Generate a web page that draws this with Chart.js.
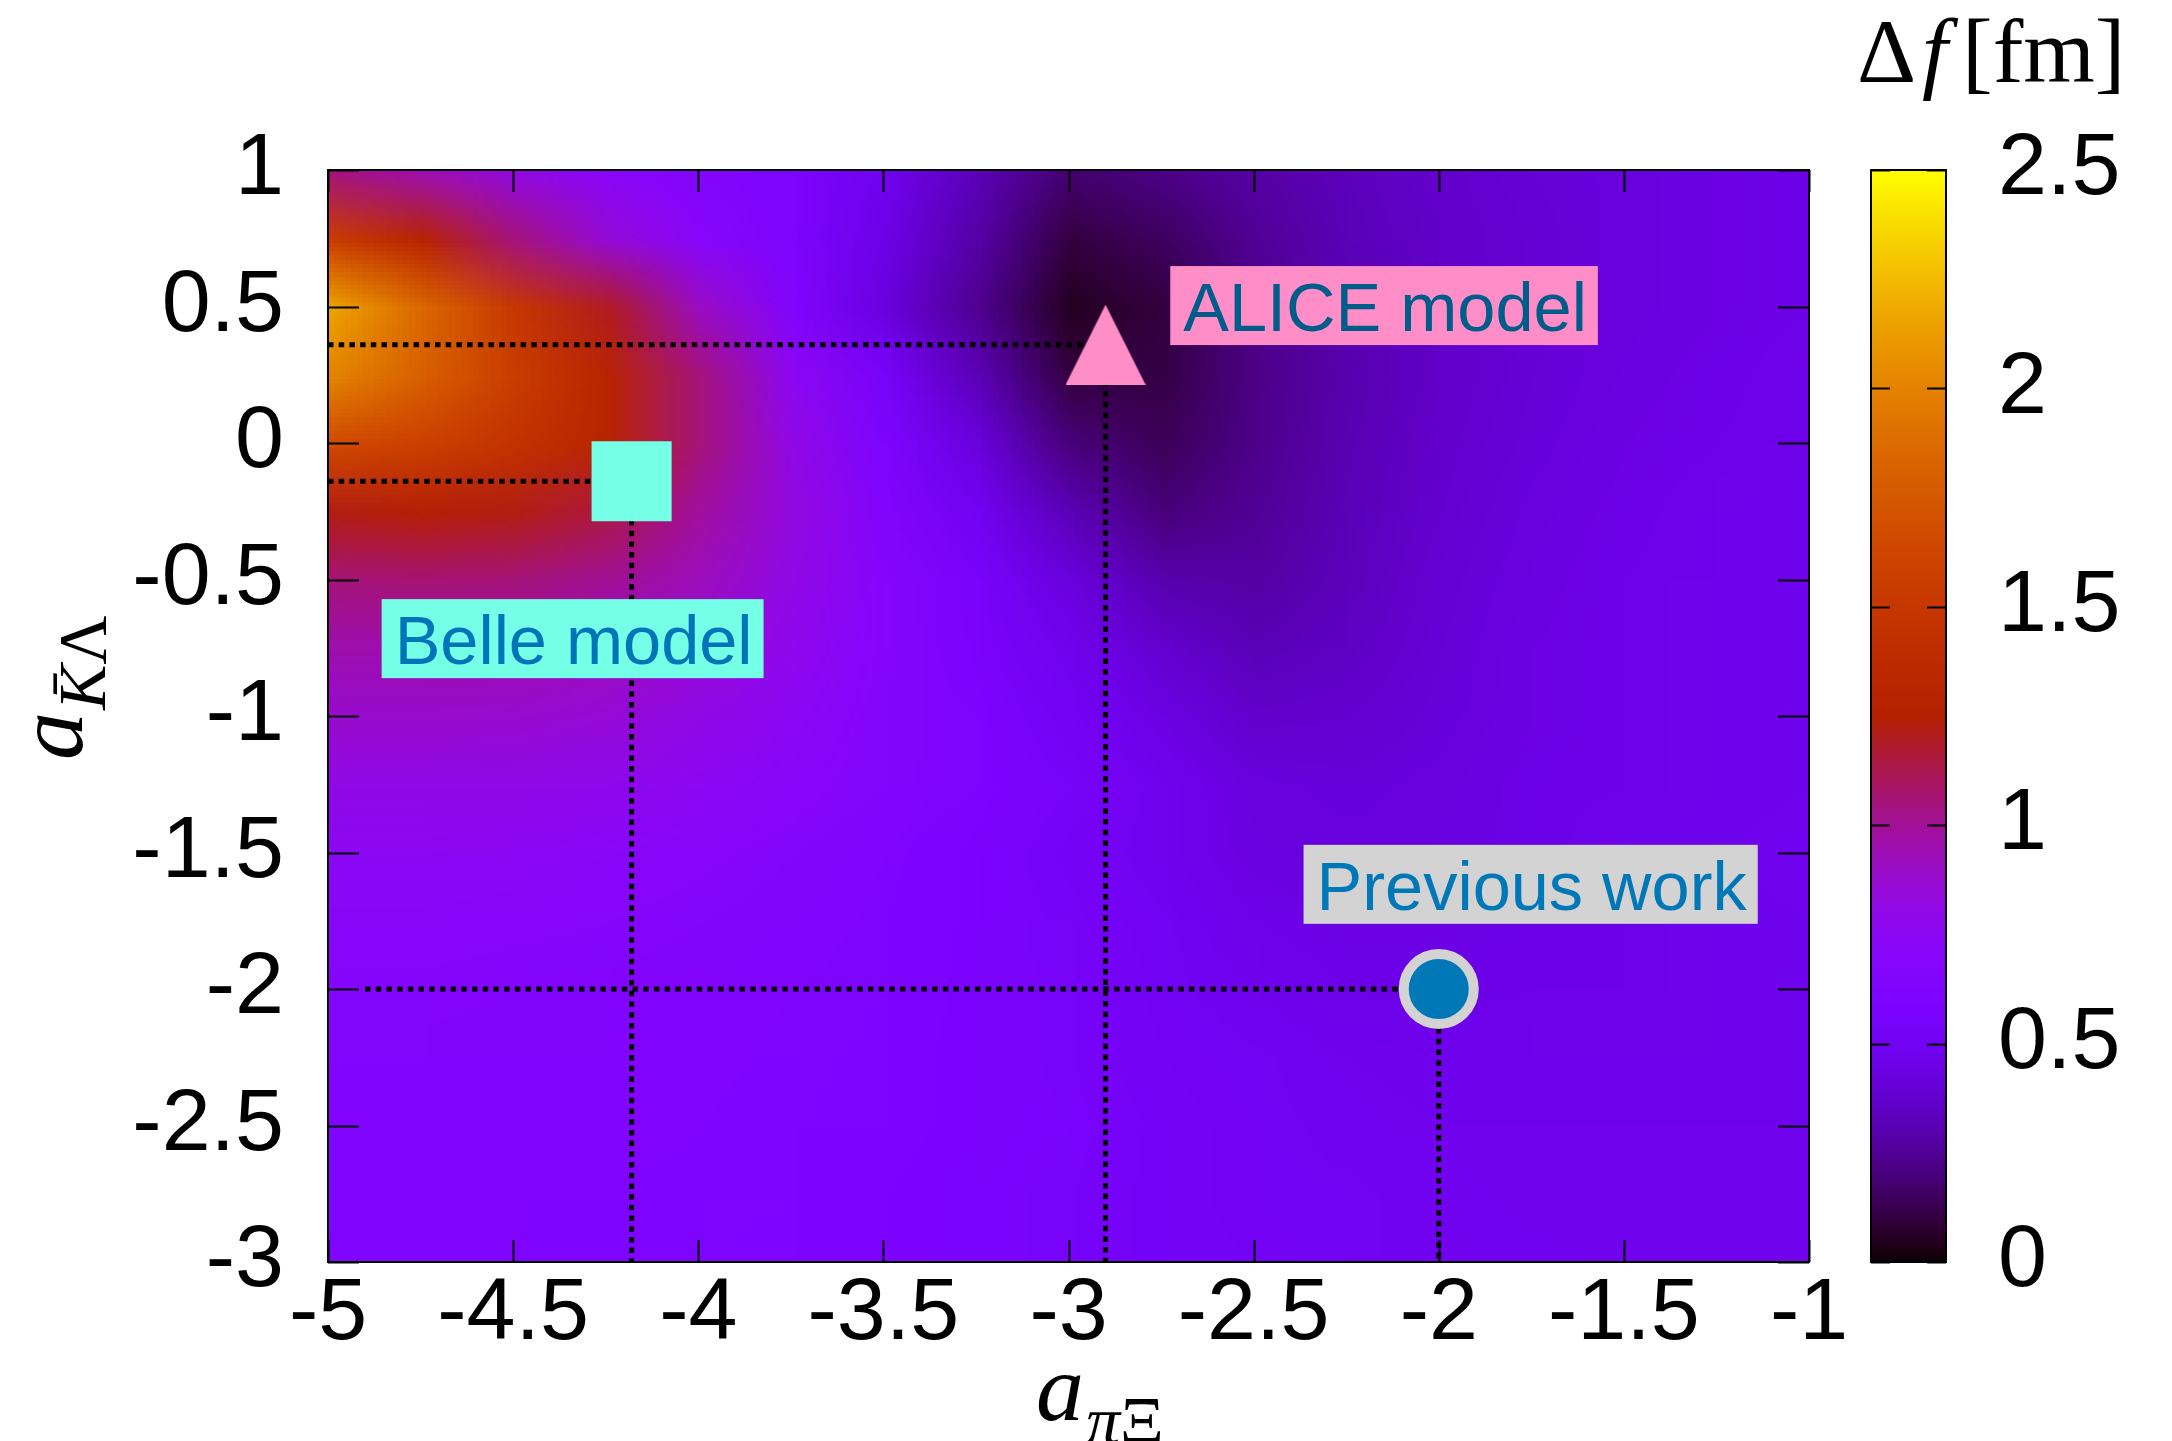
<!DOCTYPE html>
<html>
<head>
<meta charset="utf-8">
<script src="https://cdn.jsdelivr.net/npm/chart.js@4.4.1/dist/chart.umd.min.js"></script>
<style>
  html, body { margin: 0; padding: 0; background: #fff; overflow: hidden; }
  #wrap { position: relative; width: 2172px; height: 1441px; }
</style>
</head>
<body>
<div id="wrap"><canvas id="mapChart" width="2172" height="1441"></canvas></div>
<script>
// grid of the map: columns along a_piXi, rows along a_KbarLambda (top row first)
const gridX = [-5, -4.75, -4.5, -4.25, -4, -3.75, -3.5, -3.25, -3, -2.75, -2.5, -2.25, -2, -1.75, -1.5, -1.25, -1];
const gridY = [1, 0.75, 0.5, 0.25, 0, -0.25, -0.5, -0.75, -1, -1.25, -1.5, -1.75, -2, -2.25, -2.5, -2.75, -3];
const deltaF = [
    [1.05, 0.95, 0.82, 0.72, 0.66, 0.60, 0.48, 0.32, 0.18, 0.22, 0.28, 0.33, 0.37, 0.40, 0.42, 0.44, 0.46],
    [1.55, 1.30, 1.05, 0.85, 0.70, 0.60, 0.45, 0.28, 0.10, 0.15, 0.25, 0.32, 0.36, 0.39, 0.42, 0.44, 0.46],
    [2.15, 1.85, 1.50, 1.20, 0.90, 0.65, 0.42, 0.24, 0.05, 0.10, 0.23, 0.31, 0.36, 0.39, 0.42, 0.44, 0.46],
    [2.00, 1.80, 1.55, 1.30, 1.05, 0.75, 0.55, 0.32, 0.10, 0.11, 0.22, 0.30, 0.36, 0.40, 0.43, 0.45, 0.47],
    [1.65, 1.58, 1.45, 1.30, 1.05, 0.80, 0.60, 0.42, 0.20, 0.14, 0.23, 0.31, 0.37, 0.41, 0.44, 0.46, 0.47],
    [1.22, 1.24, 1.22, 1.14, 0.98, 0.82, 0.65, 0.50, 0.32, 0.20, 0.25, 0.32, 0.38, 0.42, 0.45, 0.47, 0.48],
    [1.05, 1.06, 1.05, 1.00, 0.92, 0.80, 0.68, 0.56, 0.42, 0.30, 0.28, 0.33, 0.39, 0.43, 0.46, 0.47, 0.48],
    [0.95, 0.95, 0.95, 0.92, 0.86, 0.77, 0.68, 0.58, 0.48, 0.38, 0.32, 0.35, 0.40, 0.44, 0.46, 0.47, 0.48],
    [0.88, 0.88, 0.87, 0.85, 0.80, 0.74, 0.67, 0.60, 0.52, 0.44, 0.37, 0.38, 0.41, 0.44, 0.46, 0.47, 0.48],
    [0.80, 0.80, 0.80, 0.78, 0.75, 0.71, 0.66, 0.60, 0.55, 0.48, 0.42, 0.41, 0.42, 0.45, 0.46, 0.47, 0.48],
    [0.75, 0.75, 0.74, 0.72, 0.70, 0.67, 0.63, 0.58, 0.53, 0.48, 0.43, 0.42, 0.43, 0.45, 0.47, 0.48, 0.49],
    [0.71, 0.71, 0.70, 0.69, 0.67, 0.65, 0.62, 0.58, 0.54, 0.50, 0.46, 0.44, 0.44, 0.45, 0.46, 0.47, 0.48],
    [0.68, 0.68, 0.67, 0.66, 0.65, 0.63, 0.61, 0.58, 0.55, 0.51, 0.48, 0.46, 0.45, 0.46, 0.46, 0.47, 0.48],
    [0.66, 0.66, 0.65, 0.65, 0.64, 0.62, 0.60, 0.58, 0.55, 0.52, 0.50, 0.48, 0.47, 0.47, 0.47, 0.47, 0.48],
    [0.65, 0.65, 0.64, 0.64, 0.63, 0.61, 0.60, 0.58, 0.56, 0.53, 0.51, 0.49, 0.48, 0.48, 0.48, 0.48, 0.48],
    [0.64, 0.64, 0.63, 0.63, 0.62, 0.61, 0.59, 0.57, 0.55, 0.53, 0.51, 0.50, 0.49, 0.48, 0.48, 0.48, 0.48],
    [0.63, 0.63, 0.63, 0.62, 0.61, 0.60, 0.59, 0.57, 0.55, 0.53, 0.52, 0.50, 0.49, 0.49, 0.48, 0.48, 0.48]
];

const xTicks = [-5, -4.5, -4, -3.5, -3, -2.5, -2, -1.5, -1];
const yTicks = [-3, -2.5, -2, -1.5, -1, -0.5, 0, 0.5, 1];
const cbTicks = [0, 0.5, 1, 1.5, 2, 2.5];

// the three models: marker point, start of the dotted guide, label anchor
const modelNames = ['Belle model', 'ALICE model', 'Previous work'];
const modelX = [-4.18, -2.9, -2];
const modelY = [-0.14, 0.36, -2];
const guideStartX = [-5, -5, -4.9];
const labelX = [-4.82, -2.69, -2.33];
const labelY = [-0.81, 0.41, -1.71];

const boxColors = ['#75ffe6', '#ff8ec8', '#d3d3d3'];
const textColors = ['#0074b8', '#005c88', '#0078b8'];

// gnuplot default pm3d palette (rgbformulae 7,5,15)
function palette(v) {
    const t = Math.min(1, Math.max(0, v / 2.5));
    const r = Math.sqrt(t);
    const g = t * t * t;
    const b = Math.max(0, Math.sin(2 * Math.PI * t));
    return [Math.round(r * 255), Math.round(g * 255), Math.round(b * 255)];
}

function makeTriangle(size, color) {
    const c = document.createElement('canvas');
    c.width = size;
    c.height = size;
    const g = c.getContext('2d');
    g.fillStyle = color;
    g.beginPath();
    g.moveTo(size / 2, 0);
    g.lineTo(size, size);
    g.lineTo(0, size);
    g.closePath();
    g.fill();
    return c;
}

let heatImage = null;
function buildHeatImage() {
    const c = document.createElement('canvas');
    c.width = gridX.length;
    c.height = gridY.length;
    const g = c.getContext('2d');
    const img = g.createImageData(c.width, c.height);
    for (let j = 0; j < gridY.length; j++) {
        for (let i = 0; i < gridX.length; i++) {
            const [r, gg, b] = palette(deltaF[j][i]);
            const k = (j * c.width + i) * 4;
            img.data[k] = r;
            img.data[k + 1] = gg;
            img.data[k + 2] = b;
            img.data[k + 3] = 255;
        }
    }
    g.putImageData(img, 0, 0);
    return c;
}

const heatmapPlugin = {
    id: 'heatmap',
    beforeDatasetsDraw(chart) {
        const { ctx, chartArea: a, scales: { x, y } } = chart;
        if (!heatImage) heatImage = buildHeatImage();
        const px0 = x.getPixelForValue(gridX[0]);
        const px1 = x.getPixelForValue(gridX[gridX.length - 1]);
        const py0 = y.getPixelForValue(gridY[0]);
        const py1 = y.getPixelForValue(gridY[gridY.length - 1]);
        const cw = (px1 - px0) / (gridX.length - 1);
        const ch = (py1 - py0) / (gridY.length - 1);
        ctx.save();
        ctx.beginPath();
        ctx.rect(a.left, a.top, a.right - a.left, a.bottom - a.top);
        ctx.clip();
        ctx.imageSmoothingEnabled = true;
        ctx.drawImage(heatImage, px0 - cw / 2, py0 - ch / 2, px1 - px0 + cw, py1 - py0 + ch);
        ctx.restore();
    }
};

const framePlugin = {
    id: 'frame',
    afterDatasetsDraw(chart) {
        const { ctx, chartArea: a, scales: { x, y, cb } } = chart;
        ctx.save();

        // label boxes
        ctx.font = '68.5px "Liberation Sans"';
        ctx.textBaseline = 'alphabetic';
        modelNames.forEach((name, i) => {
            const tx = x.getPixelForValue(labelX[i]);
            const ty = y.getPixelForValue(labelY[i]);
            const w = ctx.measureText(name).width;
            ctx.fillStyle = boxColors[i];
            ctx.fillRect(tx - 13, ty - 65, w + 24, 79);
            ctx.fillStyle = textColors[i];
            ctx.fillText(name, tx, ty);
        });

        // border and inward ticks
        ctx.strokeStyle = '#000';
        ctx.lineWidth = 2;
        ctx.strokeRect(a.left, a.top, a.right - a.left, a.bottom - a.top);
        ctx.beginPath();
        xTicks.forEach((v) => {
            const px = Math.round(x.getPixelForValue(v)) + 0.5;
            ctx.moveTo(px, a.bottom); ctx.lineTo(px, a.bottom - 22);
            ctx.moveTo(px, a.top); ctx.lineTo(px, a.top + 22);
        });
        yTicks.forEach((v) => {
            const py = Math.round(y.getPixelForValue(v)) + 0.5;
            ctx.moveTo(a.left, py); ctx.lineTo(a.left + 31, py);
            ctx.moveTo(a.right, py); ctx.lineTo(a.right - 31, py);
        });
        ctx.stroke();

        // colour box
        const cbLeft = 1871, cbWidth = 75;
        const top = cb.getPixelForValue(2.5);
        const bottom = cb.getPixelForValue(0);
        for (let py = Math.floor(top); py < bottom; py++) {
            const [r, g, b] = palette(cb.getValueForPixel(py + 0.5));
            ctx.fillStyle = `rgb(${r},${g},${b})`;
            ctx.fillRect(cbLeft, py, cbWidth, 1);
        }
        ctx.strokeRect(cbLeft, top, cbWidth, bottom - top);
        ctx.beginPath();
        cbTicks.forEach((v) => {
            const py = Math.round(cb.getPixelForValue(v)) + 0.5;
            ctx.moveTo(cbLeft, py); ctx.lineTo(cbLeft + 19, py);
            ctx.moveTo(cbLeft + cbWidth, py); ctx.lineTo(cbLeft + cbWidth - 19, py);
        });
        ctx.stroke();

        // axis titles
        ctx.fillStyle = '#000';
        ctx.save();
        ctx.translate(82, 760);
        ctx.rotate(-Math.PI / 2);
        ctx.font = 'italic 96px "Liberation Serif"';
        ctx.fillText('a', 0, 0);
        let aw = ctx.measureText('a').width;
        ctx.font = 'italic 68px "Liberation Serif"';
        ctx.fillText('K\u0304', aw + 2, 23);
        const kw = ctx.measureText('K').width;
        ctx.font = '68px "Liberation Serif"';
        ctx.fillText('\u039B', aw + 2 + kw, 23);
        ctx.restore();

        ctx.font = 'italic 96px "Liberation Serif"';
        ctx.fillText('a', 1036, 1420);
        aw = ctx.measureText('a').width;
        ctx.font = 'italic 68px "Liberation Serif"';
        ctx.fillText('\u03C0', 1036 + aw + 2, 1443);
        const pw = ctx.measureText('\u03C0').width;
        ctx.font = '68px "Liberation Serif"';
        ctx.fillText('\u039E', 1036 + aw + 2 + pw, 1443);

        ctx.font = '92px "Liberation Serif"';
        ctx.fillText('\u0394', 1857, 82);
        ctx.font = 'italic 92px "Liberation Serif"';
        ctx.fillText('f', 1922, 82);
        ctx.font = '92px "Liberation Serif"';
        ctx.fillText('[fm]', 1962, 82);

        ctx.restore();
    }
};

Chart.defaults.font.family = '"Liberation Sans", Arial, sans-serif';
Chart.defaults.color = '#000';

const tickFont = { size: 88, lineHeight: 1.2 };
const fmt = (v) => String(Math.round(v * 10) / 10);

const markerDatasets = [
    {
        data: [{ x: modelX[0], y: modelY[0] }],
        pointStyle: 'rect',
        pointRadius: 56.6,
        pointBackgroundColor: boxColors[0],
        pointBorderWidth: 0,
        order: 0
    },
    {
        data: [{ x: modelX[1], y: modelY[1] }],
        pointStyle: makeTriangle(80, boxColors[1]),
        pointRadius: 40,
        order: 0
    },
    {
        data: [{ x: modelX[2], y: modelY[2] }],
        pointStyle: 'circle',
        pointRadius: 35,
        pointBackgroundColor: '#0078b8',
        pointBorderColor: '#d3d3d3',
        pointBorderWidth: 10,
        order: 0
    }
];

const guideDatasets = modelNames.map((name, i) => ({
    data: [
        { x: guideStartX[i], y: modelY[i] },
        { x: modelX[i], y: modelY[i] },
        { x: modelX[i], y: -3 }
    ],
    showLine: true,
    borderColor: '#000',
    borderWidth: 5,
    borderDash: [5.5, 5.2],
    borderCapStyle: 'butt',
    pointRadius: 0,
    order: 1
}));

// vertical axes keep no extra top/bottom padding so the plot frame stays put
const noPad = (s) => { s.paddingTop = 0; s.paddingBottom = 0; };

new Chart(document.getElementById('mapChart'), {
    type: 'scatter',
    data: { datasets: [...markerDatasets, ...guideDatasets] },
    plugins: [heatmapPlugin, framePlugin],
    options: {
        responsive: false,
        animation: false,
        devicePixelRatio: 1,
        layout: { padding: { top: 170, left: 0, right: 0, bottom: 0 } },
        plugins: { legend: { display: false }, tooltip: { enabled: false } },
        scales: {
            x: {
                type: 'linear', position: 'bottom', min: -5, max: -1,
                grid: { display: false, drawTicks: false }, border: { display: false },
                afterBuildTicks: (s) => { s.ticks = xTicks.map((v) => ({ value: v })); },
                afterFit: (s) => { s.height = 179; s.paddingLeft = 0; s.paddingRight = 0; },
                ticks: { font: tickFont, padding: 0, maxRotation: 0, autoSkip: false, callback: fmt }
            },
            y: {
                type: 'linear', position: 'left', min: -3, max: 1,
                grid: { display: false, drawTicks: false }, border: { display: false },
                afterBuildTicks: (s) => { s.ticks = yTicks.map((v) => ({ value: v })); },
                afterFit: (s) => { s.width = 328; noPad(s); },
                ticks: { font: tickFont, padding: 44, autoSkip: false, callback: fmt }
            },
            cb: {
                type: 'linear', axis: 'y', position: 'right', min: 0, max: 2.5,
                grid: { display: false, drawTicks: false }, border: { display: false },
                afterBuildTicks: (s) => { s.ticks = cbTicks.map((v) => ({ value: v })); },
                afterFit: (s) => { s.width = 363; noPad(s); },
                ticks: { font: tickFont, padding: 189, autoSkip: false, callback: fmt }
            }
        }
    }
});
</script>
</body>
</html>
